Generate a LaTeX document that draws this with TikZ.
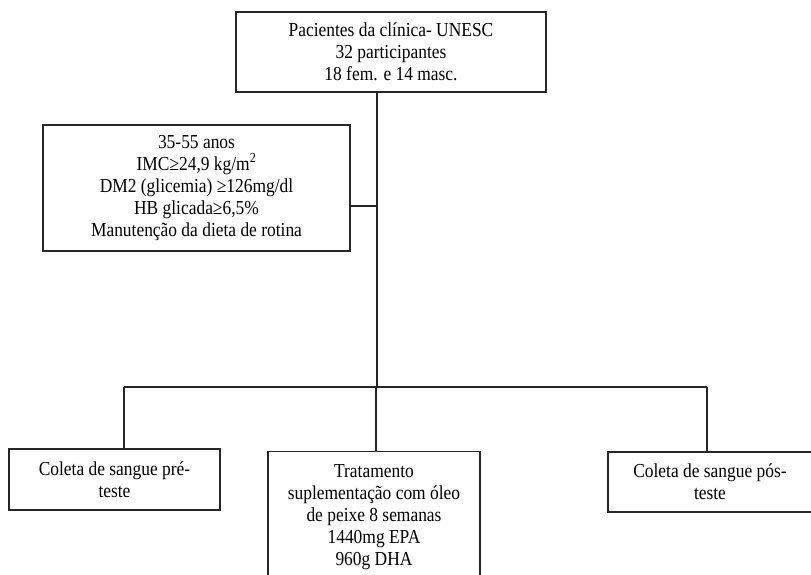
\documentclass[tikz,border=0pt]{standalone}
\usepackage{fontspec}
\setmainfont{Liberation Serif}[FakeStretch=0.88]
\begin{document}
\begin{tikzpicture}[x=1pt,y=-1pt,
  box/.style={draw=black!85, line width=1.2pt, align=center, inner xsep=4pt, inner ysep=0pt,
    font=\fontsize{19.8}{22}\selectfont},
  link/.style={draw=black!85, line width=1.2pt}]
\useasboundingbox (0,0) rectangle (811,574);
\clip (0,0) rectangle (811,574);
% nodes
\node[box, minimum width=310pt, minimum height=80pt] (top) at (391,52)
  {Pacientes da clínica- UNESC\\32 participantes\\18 fem. e 14 masc.};
\node[box, minimum width=307pt, minimum height=126pt] (crit) at (196.5,188)
  {35-55 anos\\IMC≥24,9 kg/m\textsuperscript{2}\\DM2 (glicemia) ≥126mg/dl\\HB glicada≥6,5\%\\Manutenção da dieta de rotina};
\node[box, minimum width=211pt, minimum height=61pt] (pre) at (114.5,479.5)
  {Coleta de sangue pré-\\teste};
\node[box, minimum width=212pt, minimum height=140pt, anchor=north, inner ysep=13pt] (trat) at (374,451)
  {Tratamento\\suplementação com óleo\\de peixe 8 semanas\\1440mg EPA\\960g DHA\\[10pt]};
\node[box, minimum width=204pt, minimum height=60pt] (pos) at (710,482)
  {Coleta de sangue pós-\\teste};
% connector coordinates
\coordinate (stem) at (377,92);
\coordinate (join) at (377,206);
\coordinate (barL) at (124,387);
\coordinate (barC) at (376,387);
\coordinate (barR) at (707,387);
% connectors
\draw[link] (stem) -- (stem |- barC);
\draw[link] (join -| crit.east) -- (join);
\draw[link] (barL) -- (barR);
\draw[link] (barL) -- (barL |- pre.north);
\draw[link] (barC) -- (barC |- trat.north);
\draw[link] (barR) -- (barR |- pos.north);
\end{tikzpicture}
\end{document}
